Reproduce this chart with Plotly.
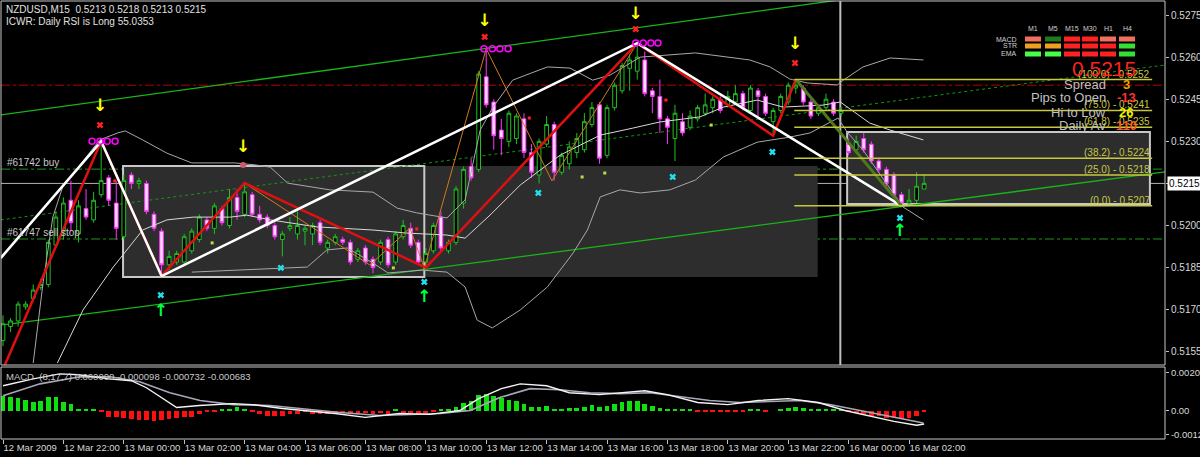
import plotly.graph_objects as go

# ---------------- data ----------------
bar_index = list(range(123))
opens = [0.5159,0.5164,0.5166,0.5171,0.5174,0.5178,0.5179,0.5193,0.5198,0.5209,
         0.5197,0.5206,0.5202,0.5211,0.5217,0.5208,0.5196,0.5218,0.5215,0.5215,
         0.5204,0.5198,0.5186,0.5187,0.5187,0.5191,0.5195,0.5202,0.5199,0.5206,
         0.5200,0.5210,0.5204,0.5211,0.5204,0.5203,0.5200,0.5195,0.5199,0.5197,
         0.5198,0.5197,0.5201,0.5192,0.5194,0.5195,0.5194,0.5188,0.5192,0.5188,
         0.5187,0.5195,0.5187,0.5196,0.5199,0.5194,0.5187,0.5191,0.5203,0.5191,
         0.5194,0.5208,0.5221,0.5220,0.5253,0.5244,0.5234,0.5230,0.5231,0.5238,
         0.5226,0.5218,0.5229,0.5236,0.5219,0.5222,0.5226,0.5227,0.5236,0.5243,
         0.5225,0.5242,0.5248,0.5256,0.5255,0.5259,0.5248,0.5246,0.5238,0.5231,
         0.5237,0.5235,0.5238,0.5240,0.5242,0.5245,0.5243,0.5244,0.5247,0.5241,
         0.5248,0.5246,0.5237,0.5241,0.5244,0.5249,0.5249,0.5244,0.5240,0.5242,
         0.5244,0.5240,0.5229,0.5227,0.5231,0.5229,0.5223,0.5220,0.5218,0.5211,
         0.5208,0.5209,0.5213]
highs = [0.5168,0.5167,0.5173,0.5173,0.5179,0.5181,0.5195,0.5205,0.5210,0.5216,
         0.5209,0.5213,0.5212,0.5230,0.5218,0.5216,0.5218,0.5219,0.5217,0.5216,
         0.5205,0.5199,0.5191,0.5191,0.5197,0.5199,0.5204,0.5203,0.5208,0.5207,
         0.5213,0.5213,0.5215,0.5212,0.5207,0.5204,0.5201,0.5198,0.5203,0.5205,
         0.5200,0.5201,0.5202,0.5195,0.5197,0.5196,0.5195,0.5192,0.5193,0.5189,
         0.5195,0.5196,0.5198,0.5202,0.5201,0.5195,0.5192,0.5201,0.5205,0.5195,
         0.5214,0.5221,0.5224,0.5255,0.5263,0.5245,0.5238,0.5241,0.5240,0.5240,
         0.5229,0.5231,0.5239,0.5237,0.5226,0.5230,0.5233,0.5240,0.5244,0.5244,
         0.5243,0.5251,0.5258,0.5261,0.5265,0.5262,0.5249,0.5252,0.5239,0.5243,
         0.5240,0.5241,0.5243,0.5247,0.5246,0.5246,0.5248,0.5250,0.5248,0.5250,
         0.5249,0.5247,0.5242,0.5247,0.5251,0.5252,0.5250,0.5245,0.5243,0.5247,
         0.5245,0.5242,0.5231,0.5232,0.5233,0.5230,0.5224,0.5221,0.5219,0.5212,
         0.5213,0.5219,0.5218]
lows = [0.5157,0.5162,0.5164,0.5170,0.5173,0.5177,0.5178,0.5192,0.5195,0.5198,
        0.5194,0.5202,0.5201,0.5210,0.5207,0.5195,0.5195,0.5213,0.5213,0.5204,
        0.5198,0.5182,0.5184,0.5186,0.5186,0.5190,0.5194,0.5198,0.5197,0.5200,
        0.5199,0.5202,0.5203,0.5203,0.5201,0.5199,0.5195,0.5189,0.5198,0.5195,
        0.5193,0.5193,0.5193,0.5190,0.5193,0.5193,0.5186,0.5187,0.5186,0.5183,
        0.5186,0.5185,0.5186,0.5195,0.5192,0.5186,0.5185,0.5190,0.5191,0.5190,
        0.5193,0.5206,0.5216,0.5219,0.5242,0.5227,0.5225,0.5228,0.5229,0.5224,
        0.5217,0.5215,0.5228,0.5216,0.5218,0.5220,0.5224,0.5226,0.5235,0.5222,
        0.5224,0.5241,0.5247,0.5248,0.5252,0.5246,0.5240,0.5233,0.5229,0.5223,
        0.5232,0.5234,0.5237,0.5239,0.5240,0.5240,0.5242,0.5243,0.5241,0.5240,
        0.5238,0.5239,0.5232,0.5240,0.5243,0.5247,0.5243,0.5238,0.5239,0.5241,
        0.5239,0.5239,0.5225,0.5226,0.5226,0.5222,0.5219,0.5214,0.5210,0.5207,
        0.5207,0.5208,0.5213]
closes = [0.5165,0.5166,0.5172,0.5172,0.5177,0.5179,0.5194,0.5203,0.5208,0.5201,
          0.5207,0.5203,0.5209,0.5216,0.5209,0.5199,0.5216,0.5215,0.5216,0.5205,
          0.5199,0.5186,0.5189,0.5190,0.5196,0.5198,0.5203,0.5199,0.5207,0.5201,
          0.5210,0.5205,0.5212,0.5204,0.5202,0.5200,0.5196,0.5197,0.5200,0.5200,
          0.5199,0.5200,0.5194,0.5194,0.5196,0.5194,0.5187,0.5191,0.5187,0.5185,
          0.5194,0.5186,0.5197,0.5200,0.5193,0.5187,0.5190,0.5200,0.5192,0.5194,
          0.5213,0.5220,0.5217,0.5254,0.5243,0.5232,0.5231,0.5240,0.5239,0.5226,
          0.5219,0.5230,0.5236,0.5219,0.5225,0.5228,0.5231,0.5237,0.5242,0.5224,
          0.5242,0.5250,0.5257,0.5259,0.5260,0.5247,0.5246,0.5238,0.5235,0.5240,
          0.5233,0.5239,0.5242,0.5243,0.5245,0.5241,0.5246,0.5247,0.5242,0.5249,
          0.5246,0.5240,0.5241,0.5246,0.5250,0.5250,0.5244,0.5239,0.5242,0.5245,
          0.5240,0.5241,0.5226,0.5230,0.5227,0.5223,0.5220,0.5215,0.5211,0.5208,
          0.5209,0.5214,0.5215]

# Bollinger-type bands (bar, price)
upper_band_bars = [4.0,5.3,6.6,7.9,10.2,12.8,15.2,16.2,18.5,21.7,25.0,30.7,33.4,35.4,37.7,43.3,49.0,52.2,54.8,58.8,
                   61.2,63.2,64.9,67.5,72.1,75.1,78.1,80.4,84.4,91.7,98.9,101.6,104.2,106.5,110.5,111.3,113.9,117.5,121.9]
upper_band = [0.51510,0.51795,0.52030,0.52137,0.52216,0.52305,0.52330,0.52337,0.52305,0.52258,0.52223,0.52223,0.52216,
              0.52208,0.52151,0.52127,0.52119,0.52062,0.52045,0.52027,0.52091,0.52340,0.52422,0.52518,0.52565,0.52561,
              0.52518,0.52536,0.52600,0.52615,0.52590,0.52565,0.52522,0.52508,0.52501,0.52518,0.52565,0.52597,0.52590]
mid_band_bars = [7.2,10.6,14.6,18.5,21.7,25.2,30.1,32.3,35.4,41.6,49.0,53.5,58.8,61.2,64.5,68.5,73.8,79.1,83.4,87.0,
                 92.3,95.4,99.9,103.3,108.6,110.9,114.8,117.5,121.9]
mid_band = [0.51510,0.51699,0.51852,0.51984,0.52020,0.52030,0.52030,0.52037,0.52020,0.51995,0.51984,0.51973,0.51966,
            0.51955,0.52037,0.52144,0.52251,0.52322,0.52347,0.52369,0.52387,0.52422,0.52447,0.52422,0.52429,0.52440,
            0.52365,0.52340,0.52305]
lower_band_bars = [25.0,30.7,35.8,40.3,42.9,45.6,49.0,51.0,55.6,58.8,61.2,62.8,64.8,68.5,72.1,75.5,77.4,79.1,81.7,84.4,
                   88.3,91.7,95.4,99.9,104.2,106.9,110.6,111.8,113.9,119.2,121.9]
lower_band = [0.51834,0.51841,0.51849,0.51852,0.51913,0.51920,0.51866,0.51831,0.51841,0.51834,0.51781,0.51663,0.51635,
              0.51699,0.51781,0.51902,0.51984,0.52102,0.52127,0.52116,0.52127,0.52162,0.52244,0.52297,0.52315,0.52330,
              0.52383,0.52333,0.52269,0.52066,0.52020]

# zigzags
zz_white_bars = [-0.3, 13, 21, 84, 119]
zz_white = [0.51884, 0.5230, 0.5182, 0.5265, 0.5207]
zz_red_bars = [0.2, 13, 21, 32, 56, 84, 102, 105]
zz_red = [0.5150, 0.5230, 0.5182, 0.52151, 0.5185, 0.5265, 0.5232, 0.5252]
zz_orange_bars = [21, 32, 48.6, 53.9, 55.8, 64, 72.7, 84]
zz_orange = [0.5182, 0.52151, 0.51859, 0.51991, 0.51849, 0.5263, 0.52159, 0.5265]
zz_olive_bars = [105, 119]
zz_olive = [0.5252, 0.5207]

# signal markers
down_arrow_bars = [12.85, 31.8, 63.8, 83.8, 104.9]
down_arrow_prices = [0.52422, 0.52276, 0.52725, 0.52750, 0.52643]
red_x_bars = [12.85, 63.8, 83.8, 104.9]
red_x_prices = [0.52358, 0.52672, 0.52700, 0.52579]
pink_dot_bars = [31.8]
pink_dot_prices = [0.52216]
circle_bars = [11.8, 12.85, 13.8, 14.85, 63.7, 64.8, 65.8, 66.9, 83.8, 84.8, 85.8, 86.75]
circle_prices = [0.5230]*4 + [0.5263]*4 + [0.5265]*4
cyan_x_bars = [20.9, 36.8, 55.8, 70.9, 88.7, 101.9, 118.8]
cyan_x_prices = [0.51752, 0.51849, 0.51799, 0.52116, 0.52173, 0.52262, 0.52027]
up_arrow_bars = [20.9, 55.8, 118.8]
up_arrow_prices = [0.51692, 0.51742, 0.51977]
lime_dot_bars = [27.7, 51.7, 76.7, 79.7, 93.8]
lime_dot_prices = [0.51938, 0.51849, 0.52173, 0.52187, 0.52358]
red_dot_bars = [14.8, 54.8, 69.7, 87.8]
red_dot_prices = [0.52159, 0.51988, 0.52383, 0.52447]

# levels / objects
fib_levels = [0.5252, 0.5241, 0.5235, 0.5224, 0.5218, 0.5207]
fib_labels = ["(100.0) - 0.5252", "(75.0) - 0.5241", "(61.8) - 0.5235",
              "(38.2) - 0.5224", "(25.0) - 0.5218", "(0.0) - 0.5207"]
fib_span = [104.8, 152.2]
order_levels = [0.52201, 0.51952]
order_labels = ["#61742 buy", "#61747 sell stop"]
red_level = 0.5250
current_price = 0.5215
session_sep_bar = 110.9
dark_zone = [15.9, 107.9, 0.51817, 0.52212]
range_box = [15.9, 55.8, 0.51817, 0.52212]
monday_box = [111.8, 151.9, 0.52077, 0.52333]
upper_tl_bars, upper_tl = [-0.3, 110.6], [0.52394, 0.52803]
lower_tl_bars, lower_tl = [-0.3, 153.9], [0.51645, 0.52191]
dotted_tl_bars, dotted_tl = [-0.3, 153.9], [0.52020, 0.52572]

# MACD
macd_hist = [v * 1e-4 for v in [
    8.0,7.5,6.8,5.7,4.4,5.4,7.5,7.1,4.4,3.6,0.9,
    0.4,0.3,-0.5,-3.6,-3.6,-3.9,-4.4,-5.0,-5.0,-5.4,
    -5.0,-4.4,-3.9,-3.6,-3.6,-2.1,-0.9,-0.9,0.4,0.4,
    1.8,0.4,-0.9,-2.1,-2.7,-3.2,-2.7,-1.8,-1.8,-0.5,
    -2.1,-2.0,-1.8,-1.5,-1.5,-1.8,-1.8,-1.6,-1.9,-1.6,
    -1.8,0.4,-1.2,-1.5,-1.8,-1.5,-0.5,0.3,0.5,2.0,
    4.0,5.0,8.5,9.0,8.0,6.5,5.5,5.0,3.5,2.0,
    2.0,2.5,1.0,1.0,1.2,1.5,2.0,3.0,2.0,2.5,
    3.5,4.5,5.0,5.0,3.5,2.5,1.5,0.8,0.8,0.3,
    0.5,-0.3,-0.5,-0.5,-1.0,-0.8,-0.5,-0.5,0.3,0.3,
    -0.3,0.0,0.8,1.5,2.0,1.5,1.0,0.6,0.8,0.5,
    0.4,-1.0,-1.5,-2.0,-2.8,-3.2,-3.8,-4.2,-4.5,-3.8,
    -3.0,-1.0]]
macd_main_bars = [0,4,7.5,10,14,17,19,23,26,30.5,33,37,44,48,52.5,56.5,60.5,63,66,68.5,
                  72,75,79,82.5,85,88,92,96,100,104,108,111.5,115,118,121,122]
macd_main = [v * 1e-4 for v in [13.4,17.1,19.8,19.3,17.1,16.1,12.3,1.6,2.7,3.7,3.2,1.1,-1.6,-3.7,-1.6,-2.1,0,6.4,
                                11.8,14.4,13.4,9.6,8.6,9.6,10.7,8.6,4.3,3.2,5.4,6.4,4.3,0,-3.2,-5.9,-8.0,-7.3]]
macd_sig_bars = [0,4.9,10.2,14.2,18.1,22.1,26.1,30.5,35.4,39.3,44.6,49.9,53.9,57.9,61.9,65.8,69.8,73.8,77.7,
                 81.7,85.7,89.7,93.6,97.6,101.6,105.6,109.5,113.5,117.5,120.8,121.9]
macd_sig = [v * 1e-4 for v in [8.0,14.4,18.2,18.2,15.5,9.6,5.4,3.2,2.7,1.1,-1.1,-2.7,-2.1,-1.6,0,7.0,11.8,11.2,9.6,
                               9.1,9.6,7.5,5.4,4.3,4.8,5.4,3.2,0,-3.2,-5.9,-6.8]]

# axes
x_tick_bars = [0, 8, 16, 24, 32, 40, 48, 56, 64, 72, 80, 88, 96, 104, 112, 120]
x_tick_labels = ["12 Mar 2009", "12 Mar 22:00", "13 Mar 00:00", "13 Mar 02:00", "13 Mar 04:00",
                 "13 Mar 06:00", "13 Mar 08:00", "13 Mar 10:00", "13 Mar 12:00", "13 Mar 14:00",
                 "13 Mar 16:00", "13 Mar 18:00", "13 Mar 20:00", "13 Mar 22:00", "16 Mar 00:00", "16 Mar 02:00"]
price_ticks = [0.5155, 0.5170, 0.5185, 0.5200, 0.5215, 0.5230, 0.5245, 0.5260, 0.5275]
macd_ticks = [0.00203, 0.0, -0.00128]
macd_tick_labels = ["0.00203", "0.00", "-0.00128"]

# dashboard panel
tf_names = ["M1", "M5", "M15", "M30", "H1", "H4"]
row_names = ["MACD", "STR", "EMA"]
state_colors = [
    ["#f07060", "#1f7a1f", "#ff2222", "#ff2222", "#f07060", "#f07060"],
    ["#f0a020", "#f0a020", "#ff2222", "#ff2222", "#ff2222", "#33e033"],
    ["#44ff44", "#44ff44", "#ff2222", "#ff2222", "#ff2222", "#33e033"],
]
info_names = ["Spread", "Pips to Open", "Hi to Low", "Daily Av"]
info_values = ["3", "-13", "26", "110"]
info_colors = ["#f0a000", "#ff3030", "#f0f000", "#ff5a20"]

# ---------------- figure ----------------
FONT = "Liberation Sans"
W_PLOT, H_PLOT = 1164, 438


def pxx(x):
    return (x - 1) / W_PLOT


def pyy(y):
    return 1 - (y - 1) / H_PLOT


fig = go.Figure()

for bx, by, col in [(upper_band_bars, upper_band, "#a8a8a8"),
                    (mid_band_bars, mid_band, "#d8d8d8"),
                    (lower_band_bars, lower_band, "#a8a8a8")]:
    fig.add_trace(go.Scatter(x=bx, y=by, mode="lines", line=dict(color=col, width=1),
                             xaxis="x", yaxis="y", hoverinfo="skip"))

fig.add_trace(go.Candlestick(
    x=bar_index, open=opens, high=highs, low=lows, close=closes,
    increasing=dict(line=dict(color="#22c022", width=1), fillcolor="#000000"),
    decreasing=dict(line=dict(color="#ff33ff", width=1), fillcolor="#ffd8ff"),
    whiskerwidth=0, xaxis="x", yaxis="y", hoverinfo="skip"))

for bx, by, col, w in [(zz_orange_bars, zz_orange, "#d2781e", 1),
                       (zz_red_bars, zz_red, "#e01010", 2.5),
                       (zz_white_bars, zz_white, "#ffffff", 2.5),
                       (zz_olive_bars, zz_olive, "#4f7a1c", 3)]:
    fig.add_trace(go.Scatter(x=bx, y=by, mode="lines", line=dict(color=col, width=w),
                             xaxis="x", yaxis="y", hoverinfo="skip"))

fig.add_trace(go.Scatter(x=circle_bars, y=circle_prices, mode="markers",
                         marker=dict(symbol="circle-open", size=6, color="#ff00ff", line=dict(width=1.5)),
                         xaxis="x", yaxis="y"))
fig.add_trace(go.Scatter(x=down_arrow_bars, y=down_arrow_prices, mode="text",
                         text=["<b>↓</b>"] * len(down_arrow_bars),
                         textfont=dict(family="DejaVu Sans", size=17, color="#ffff00"), xaxis="x", yaxis="y"))
fig.add_trace(go.Scatter(x=up_arrow_bars, y=up_arrow_prices, mode="text",
                         text=["<b>↑</b>"] * len(up_arrow_bars),
                         textfont=dict(family="DejaVu Sans", size=17, color="#00ff44"), xaxis="x", yaxis="y"))
fig.add_trace(go.Scatter(x=red_x_bars, y=red_x_prices, mode="markers",
                         marker=dict(symbol="x", size=6, color="#ff2020", line=dict(width=0)),
                         xaxis="x", yaxis="y"))
fig.add_trace(go.Scatter(x=pink_dot_bars, y=pink_dot_prices, mode="markers",
                         marker=dict(symbol="circle", size=6, color="#d05a6a"), xaxis="x", yaxis="y"))
fig.add_trace(go.Scatter(x=cyan_x_bars, y=cyan_x_prices, mode="markers",
                         marker=dict(symbol="x", size=6, color="#20e0f0", line=dict(width=0)),
                         xaxis="x", yaxis="y"))
fig.add_trace(go.Scatter(x=lime_dot_bars, y=lime_dot_prices, mode="markers",
                         marker=dict(symbol="square", size=3, color="#b8e040"), xaxis="x", yaxis="y"))
fig.add_trace(go.Scatter(x=red_dot_bars, y=red_dot_prices, mode="markers",
                         marker=dict(symbol="square", size=3, color="#ff2020"), xaxis="x", yaxis="y"))

fig.add_trace(go.Bar(x=bar_index, y=macd_hist, width=0.62,
                     marker=dict(color=["#10e010" if v >= 0 else "#ff1010" for v in macd_hist], line=dict(width=0)),
                     xaxis="x", yaxis="y2"))
fig.add_trace(go.Scatter(x=macd_sig_bars, y=macd_sig, mode="lines", line=dict(color="#a8a8b8", width=1.6),
                         xaxis="x", yaxis="y2"))
fig.add_trace(go.Scatter(x=macd_main_bars, y=macd_main, mode="lines", line=dict(color="#f4f4f4", width=1.4),
                         xaxis="x", yaxis="y2"))

shapes = []
shapes.append(dict(type="rect", xref="x", yref="y", x0=dark_zone[0], x1=dark_zone[1], y0=dark_zone[2],
                   y1=dark_zone[3], fillcolor="#2d2d2d", line=dict(width=0), layer="below"))
shapes.append(dict(type="rect", xref="x", yref="y", x0=monday_box[0], x1=monday_box[1], y0=monday_box[2],
                   y1=monday_box[3], fillcolor="#2d2d2d", line=dict(color="#c8c8c8", width=2), layer="below"))
shapes.append(dict(type="rect", xref="x", yref="y", x0=range_box[0], x1=range_box[1], y0=range_box[2],
                   y1=range_box[3], fillcolor="rgba(0,0,0,0)", line=dict(color="#c8c8c8", width=2), layer="below"))
shapes.append(dict(type="line", xref="x", yref="y", x0=upper_tl_bars[0], x1=upper_tl_bars[1], y0=upper_tl[0],
                   y1=upper_tl[1], line=dict(color="#19b419", width=1.3), layer="below"))
shapes.append(dict(type="line", xref="x", yref="y", x0=lower_tl_bars[0], x1=lower_tl_bars[1], y0=lower_tl[0],
                   y1=lower_tl[1], line=dict(color="#19b419", width=1.3), layer="below"))
shapes.append(dict(type="line", xref="x", yref="y", x0=dotted_tl_bars[0], x1=dotted_tl_bars[1], y0=dotted_tl[0],
                   y1=dotted_tl[1], line=dict(color="#149614", width=1, dash="dot"), layer="below"))
shapes.append(dict(type="line", xref="x domain", yref="y", x0=0, x1=1, y0=red_level, y1=red_level,
                   line=dict(color="#b40000", width=1, dash="dashdot"), layer="below"))
for lv in order_levels:
    shapes.append(dict(type="line", xref="x domain", yref="y", x0=0, x1=1, y0=lv, y1=lv,
                       line=dict(color="#1e961e", width=1, dash="dashdot"), layer="below"))
shapes.append(dict(type="line", xref="x domain", yref="y", x0=0, x1=1, y0=current_price, y1=current_price,
                   line=dict(color="#b4b4b4", width=1), layer="below"))
shapes.append(dict(type="line", xref="x", yref="y domain", x0=session_sep_bar, x1=session_sep_bar, y0=0, y1=1,
                   line=dict(color="#bebebe", width=2), layer="below"))
for lv in fib_levels:
    shapes.append(dict(type="line", xref="x", yref="y", x0=fib_span[0], x1=fib_span[1], y0=lv, y1=lv,
                       line=dict(color="#c8c83c", width=1.5)))
shapes.append(dict(type="rect", xref="paper", yref="paper", x0=0, x1=1, y0=pyy(365), y1=1,
                   line=dict(color="#c8c8c8", width=1)))
shapes.append(dict(type="rect", xref="paper", yref="paper", x0=0, x1=1, y0=0, y1=pyy(367),
                   line=dict(color="#c8c8c8", width=1)))

col_x = [1033, 1053, 1072, 1090, 1108, 1127]
row_y = [39, 46, 54]
for r, row in enumerate(state_colors):
    for c, colr in enumerate(row):
        shapes.append(dict(type="rect", xref="paper", yref="paper",
                           x0=pxx(col_x[c] - 8), x1=pxx(col_x[c] + 8),
                           y0=pyy(row_y[r] + 2.5), y1=pyy(row_y[r] - 2.5),
                           fillcolor=colr, line=dict(width=0)))

annotations = []
annotations.append(dict(xref="paper", yref="paper", x=pxx(4), y=pyy(2), xanchor="left", yanchor="top",
                        text="NZDUSD,M15  0.5213 0.5218 0.5213 0.5215", showarrow=False,
                        font=dict(family=FONT, size=10, color="#e0e0e0")))
annotations.append(dict(xref="paper", yref="paper", x=pxx(4), y=pyy(14), xanchor="left", yanchor="top",
                        text="ICWR: Daily RSI is Long 55.0353", showarrow=False,
                        font=dict(family=FONT, size=10, color="#e0e0e0")))
annotations.append(dict(xref="paper", yref="paper", x=pxx(4), y=pyy(369), xanchor="left", yanchor="top",
                        text="MACD  (8,17,7) 0.000000 -0.000098 -0.000732 -0.000683", showarrow=False,
                        font=dict(family=FONT, size=9.5, color="#c8c8c8")))
for lv, lab in zip(order_levels, order_labels):
    annotations.append(dict(xref="x", yref="y", x=0.3, y=lv, xanchor="left", yanchor="bottom", text=lab,
                            showarrow=False, yshift=-1, font=dict(family=FONT, size=10, color="#c8c8c8")))
for lv, lab in zip(fib_levels, fib_labels):
    annotations.append(dict(xref="x", yref="y", x=fib_span[1], y=lv, xanchor="right", yanchor="bottom", text=lab,
                            showarrow=False, yshift=-2, font=dict(family=FONT, size=10, color="#c8c846")))
annotations.append(dict(xref="paper", yref="y", x=1, y=current_price, xanchor="left", yanchor="middle",
                        text="0.5215", showarrow=False, xshift=2, bgcolor="#ffffff", borderpad=1,
                        font=dict(family=FONT, size=10, color="#000000")))
for c, name in enumerate(tf_names):
    annotations.append(dict(xref="paper", yref="paper", x=pxx(col_x[c]), y=pyy(28), xanchor="center",
                            yanchor="middle", text=name, showarrow=False,
                            font=dict(family=FONT, size=7, color="#d0d0d0")))
for r, name in enumerate(row_names):
    annotations.append(dict(xref="paper", yref="paper", x=pxx(1019), y=pyy(row_y[r]), xanchor="right",
                            yanchor="middle", text=name, showarrow=False,
                            font=dict(family=FONT, size=7, color="#d0d0d0")))
annotations.append(dict(xref="paper", yref="paper", x=pxx(1138), y=pyy(68), xanchor="right", yanchor="middle",
                        text="0.5215", showarrow=False, font=dict(family=FONT, size=21, color="#ff2020")))
info_y = [84, 98, 112, 126]
for name, val, colr, yy in zip(info_names, info_values, info_colors, info_y):
    annotations.append(dict(xref="paper", yref="paper", x=pxx(1108), y=pyy(yy), xanchor="right",
                            yanchor="middle", text=name, showarrow=False,
                            font=dict(family=FONT, size=13, color="#c0c0c0")))
    annotations.append(dict(xref="paper", yref="paper", x=pxx(1126), y=pyy(yy), xanchor="center",
                            yanchor="middle", text="<b>" + val + "</b>", showarrow=False,
                            font=dict(family=FONT, size=13, color=colr)))

fig.update_layout(
    width=1200, height=457,
    margin=dict(l=1, r=35, t=1, b=18),
    paper_bgcolor="#000000", plot_bgcolor="#000000",
    showlegend=False, hovermode=False, bargap=0,
    font=dict(family=FONT, size=10, color="#d0d0d0"),
    shapes=shapes, annotations=annotations,
    xaxis=dict(domain=[0, 1], anchor="y2", range=[-0.265, 153.9], showgrid=False, zeroline=False,
               tickvals=x_tick_bars, ticktext=x_tick_labels, ticklabelposition="outside right",
               tickangle=0, ticks="outside", ticklen=4, tickcolor="#c0c0c0",
               tickfont=dict(size=9.5, color="#d8d8d8"),
               rangeslider=dict(visible=False), showline=False, automargin=False, fixedrange=True),
    yaxis=dict(domain=[pyy(365), 1], anchor="x", side="right", range=[0.51503, 0.52800], showgrid=False,
               zeroline=False, tickvals=price_ticks, ticktext=["%.4f" % v for v in price_ticks],
               ticks="outside", ticklen=3, tickcolor="#c0c0c0", tickfont=dict(size=10, color="#d8d8d8"),
               automargin=False, fixedrange=True),
    yaxis2=dict(domain=[0, pyy(367)], anchor="x", side="right", range=[-0.00154, 0.002351], showgrid=False,
                zeroline=False, tickvals=macd_ticks, ticktext=macd_tick_labels, ticks="outside", ticklen=3,
                tickcolor="#c0c0c0", tickfont=dict(size=9.5, color="#d8d8d8"), automargin=False,
                fixedrange=True),
)

fig.write_html("out.html", config={"displayModeBar": False},
               post_script="document.body.style.margin='0';document.body.style.background='#000000';")
